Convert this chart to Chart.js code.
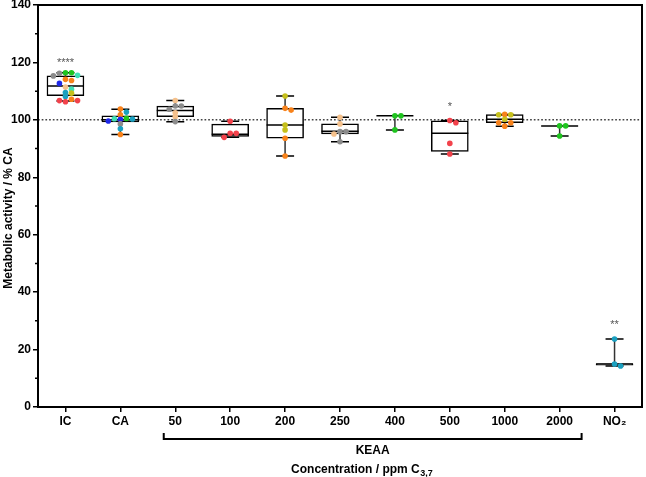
<!DOCTYPE html>
<html>
<head>
<meta charset="utf-8">
<script src="https://cdn.jsdelivr.net/npm/chart.js@4.4.0/dist/chart.umd.min.js"></script>
<style>
html, body { margin: 0; padding: 0; background: #fff; }
#wrap { width: 646px; height: 477px; }
</style>
</head>
<body>
<div id="wrap"><canvas id="graph_activite" width="646" height="477"></canvas></div>
<script>
// Categories (x axis)
var categories = ['IC', 'CA', '50', '100', '200', '250', '400', '500', '1000', '2000', 'NO\u2082'];
var yTicks = [0, 20, 40, 60, 80, 100, 120, 140];
var referenceLine = 100;

// Box statistics, % CA
var whiskerLow  = [106.6, 94.9, 99.3, 93.9, 87.4, 92.4, 96.5, 88.1, 97.8, 94.4, 14.3];
var boxQ1       = [108.4, 99.3, 101.1, 94.2, 93.6, 95.1, 101.4, 89.0, 99.0, 97.9, 14.6];
var boxMedian   = [111.8, 100.0, 103.3, 95.0, 98.2, 96.0, 101.4, 95.3, 100.2, 97.9, 15.0];
var boxQ3       = [115.3, 101.4, 104.8, 98.5, 104.0, 98.6, 101.4, 99.7, 101.8, 97.9, 15.0];
var whiskerHigh = [116.4, 103.7, 106.7, 99.5, 108.3, 100.9, 101.4, 99.8, 101.9, 97.9, 23.7];

// Single replicates
var valuesIC   = [116.4, 116.4, 116.2, 115.5, 115.3, 114.1, 113.7, 112.7, 111.4, 110.7, 109.5, 109.3, 108.1, 107.2, 106.7, 106.7, 106.3];
var valuesCA   = [103.8, 102.7, 101.8, 100.5, 100.4, 100.2, 100.3, 99.6, 98.6, 96.9, 94.9];
var values50   = [106.7, 104.8, 104.8, 103.7, 102.5, 101.1, 99.4];
var values100  = [99.5, 95.3, 95.3, 93.9];
var values200  = [108.3, 104.0, 103.4, 98.2, 96.5, 93.6, 87.4];
var values250  = [100.9, 98.6, 95.9, 95.9, 95.1, 92.4];
var values400  = [101.4, 101.4, 96.5];
var values500  = [99.8, 99.0, 91.8, 88.1];
var values1000 = [101.9, 101.8, 101.8, 100.2, 99.0, 99.0, 97.8];
var values2000 = [97.9, 97.9, 94.4];
var valuesNO2  = [23.7, 15.0, 14.3];
var replicates = [valuesIC, valuesCA, values50, values100, values200, values250, values400, values500, values1000, values2000, valuesNO2];

// Significance marks
var stars     = ['****', '', '', '', '', '', '', '*', '', '', '**'];
var starLevel = [120.8, null, null, null, null, null, null, 105.5, null, null, 29.5];

// colours of the replicates (style only)
var R = '#f2424b', O = '#f8821a', G = '#8c8c8c', V = '#1fc41f', T = '#1aa0c0',
    B = '#1f28e8', Y = '#c6c01c', P = '#f5c18c', A = '#3fe0b4';
var replicateColours = [
    [V, V, G, A, G, O, O, B, P, A, T, Y, T, O, R, R, R],
    [O, T, O, V, A, B, T, B, G, T, O],
    [P, G, G, G, P, P, G],
    [R, R, R, R],
    [Y, O, O, Y, Y, O, O],
    [P, P, G, G, P, G],
    [V, V, V],
    [R, R, R, R],
    [O, Y, Y, Y, O, O, O],
    [V, V, V],
    [T, T, T]
];

// simple beeswarm so that points at the same level sit side by side
function swarm(vals) {
    var placed = [], out = [];
    var slots = [0, 1, -1, 2, -2];
    vals.forEach(function (v) {
        var k = 0;
        for (var s = 0; s < slots.length; s++) {
            var clash = placed.some(function (p) { return p.slot === slots[s] && Math.abs(p.v - v) < 1.4; });
            if (!clash) { k = slots[s]; break; }
        }
        placed.push({ slot: k, v: v });
        out.push(k * 0.11);
    });
    return out;
}

var pointData = [], pointColours = [];
replicates.forEach(function (vals, i) {
    var off = swarm(vals);
    vals.forEach(function (v, j) {
        pointData.push({ x: i + off[j], y: v });
        pointColours.push(replicateColours[i][j]);
    });
});

var boxData = categories.map(function (c, i) { return { x: i, y: [boxQ1[i], boxQ3[i]] }; });

var fontBold = { family: 'Liberation Sans', weight: 'bold', size: 12 };

var boxPlugin = {
    id: 'boxDetails',
    beforeDatasetsDraw: function (chart) {
        var ctx = chart.ctx, a = chart.chartArea;
        var y = chart.scales.y.getPixelForValue(referenceLine);
        ctx.save();
        ctx.setLineDash([1.7, 2]);
        ctx.lineWidth = 1.5;
        ctx.strokeStyle = '#444';
        ctx.beginPath(); ctx.moveTo(a.left, y); ctx.lineTo(a.right, y); ctx.stroke();
        ctx.restore();
    },
    afterDatasetDraw: function (chart, args) {
        if (args.index !== 0) return;
        var ctx = chart.ctx, xs = chart.scales.x, ys = chart.scales.y;
        ctx.save();
        categories.forEach(function (c, i) {
            var x = xs.getPixelForValue(i);
            ctx.strokeStyle = '#333';
            ctx.lineWidth = 1.5;
            ctx.beginPath();
            ctx.moveTo(x, ys.getPixelForValue(whiskerLow[i])); ctx.lineTo(x, ys.getPixelForValue(boxQ1[i]));
            ctx.moveTo(x, ys.getPixelForValue(boxQ3[i])); ctx.lineTo(x, ys.getPixelForValue(whiskerHigh[i]));
            ctx.stroke();
            ctx.strokeStyle = '#000';
            ctx.beginPath();
            var lo = ys.getPixelForValue(whiskerLow[i]), hi = ys.getPixelForValue(whiskerHigh[i]);
            ctx.moveTo(x - 9, lo); ctx.lineTo(x + 9, lo);
            ctx.moveTo(x - 9, hi); ctx.lineTo(x + 9, hi);
            var m = ys.getPixelForValue(boxMedian[i]);
            ctx.moveTo(x - 18.5, m); ctx.lineTo(x + 18.5, m);
            ctx.stroke();
        });
        ctx.restore();
    },
    afterDraw: function (chart) {
        var ctx = chart.ctx, a = chart.chartArea, xs = chart.scales.x, ys = chart.scales.y;
        ctx.save();
        // frame
        ctx.strokeStyle = '#000';
        ctx.lineWidth = 2;
        ctx.strokeRect(a.left, a.top, a.right - a.left, a.bottom - a.top);
        // minor y ticks
        ctx.lineWidth = 1.5;
        ctx.beginPath();
        for (var k = 0; k < yTicks.length - 1; k++) {
            var ym = ys.getPixelForValue((yTicks[k] + yTicks[k + 1]) / 2);
            ctx.moveTo(a.left - 3, ym); ctx.lineTo(a.left, ym);
        }
        ctx.stroke();
        // stars
        ctx.fillStyle = '#555';
        ctx.font = '11px "Liberation Sans"';
        ctx.textAlign = 'center';
        ctx.textBaseline = 'middle';
        stars.forEach(function (s, i) {
            if (s) ctx.fillText(s, xs.getPixelForValue(i), ys.getPixelForValue(starLevel[i]) + 3);
        });
        // KEAA bracket
        var bl = xs.getPixelForValue(1.79), br = xs.getPixelForValue(9.4), by = a.bottom + 32;
        ctx.lineWidth = 2;
        ctx.beginPath();
        ctx.moveTo(bl, by - 6); ctx.lineTo(bl, by); ctx.lineTo(br, by); ctx.lineTo(br, by - 6);
        ctx.stroke();
        ctx.fillStyle = '#000';
        ctx.font = 'bold 12px "Liberation Sans"';
        ctx.fillText('KEAA', (bl + br) / 2, a.bottom + 44);
        // x title with subscript
        var main = 'Concentration / ppm C', sub = '3,7';
        var w1 = ctx.measureText(main).width;
        ctx.font = 'bold 9px "Liberation Sans"';
        var w2 = ctx.measureText(sub).width;
        var cx = (bl + br) / 2 - 11;
        var x0 = cx - (w1 + w2) / 2;
        ctx.textAlign = 'left';
        ctx.font = 'bold 12px "Liberation Sans"';
        ctx.fillText(main, x0, a.bottom + 63);
        ctx.font = 'bold 9px "Liberation Sans"';
        ctx.fillText(sub, x0 + w1 + 0.5, a.bottom + 67);
        // y title
        ctx.translate(9, 218);
        ctx.rotate(-Math.PI / 2);
        ctx.textAlign = 'center';
        ctx.font = 'bold 12px "Liberation Sans"';
        ctx.fillText('Metabolic activity / % CA', 0, 0);
        ctx.restore();
    }
};

var myBoxChart = new Chart(document.getElementById('graph_activite').getContext('2d'), {
    type: 'bar',
    data: {
        datasets: [
            {
                type: 'bar',
                data: boxData,
                backgroundColor: '#fff',
                borderColor: '#000',
                borderWidth: 1.5,
                borderSkipped: false,
                barThickness: 37,
                order: 2
            },
            {
                type: 'scatter',
                data: pointData,
                pointBackgroundColor: pointColours,
                pointBorderWidth: 0,
                pointRadius: 2.8,
                showLine: false,
                order: 1
            }
        ]
    },
    options: {
        responsive: false,
        animation: false,
        devicePixelRatio: 1,
        layout: { padding: { top: 5, right: 3, left: 0, bottom: 0 } },
        plugins: { legend: { display: false }, tooltip: { enabled: false } },
        scales: {
            x: {
                type: 'linear',
                min: -0.5,
                max: 10.5,
                offset: false,
                afterBuildTicks: function (s) { s.ticks = categories.map(function (c, i) { return { value: i }; }); },
                afterFit: function (s) { s.height = 70; s.paddingLeft = 0; s.paddingRight = 0; },
                ticks: {
                    callback: function (v, i) { return categories[i]; },
                    font: fontBold, color: '#000', padding: 2, maxRotation: 0, autoSkip: false
                },
                grid: { offset: false, drawOnChartArea: false, drawTicks: true, tickLength: 5, color: '#000', lineWidth: 1.5 },
                border: { display: false }
            },
            y: {
                min: 0,
                max: 140,
                afterBuildTicks: function (s) { s.ticks = yTicks.map(function (v) { return { value: v }; }); },
                afterFit: function (s) { s.width = 38; s.paddingTop = 0; s.paddingBottom = 0; },
                ticks: { font: fontBold, color: '#000', padding: 2 },
                grid: { drawOnChartArea: false, drawTicks: true, tickLength: 5, color: '#000', lineWidth: 1.5 },
                border: { display: false }
            }
        }
    },
    plugins: [boxPlugin]
});
</script>
</body>
</html>
